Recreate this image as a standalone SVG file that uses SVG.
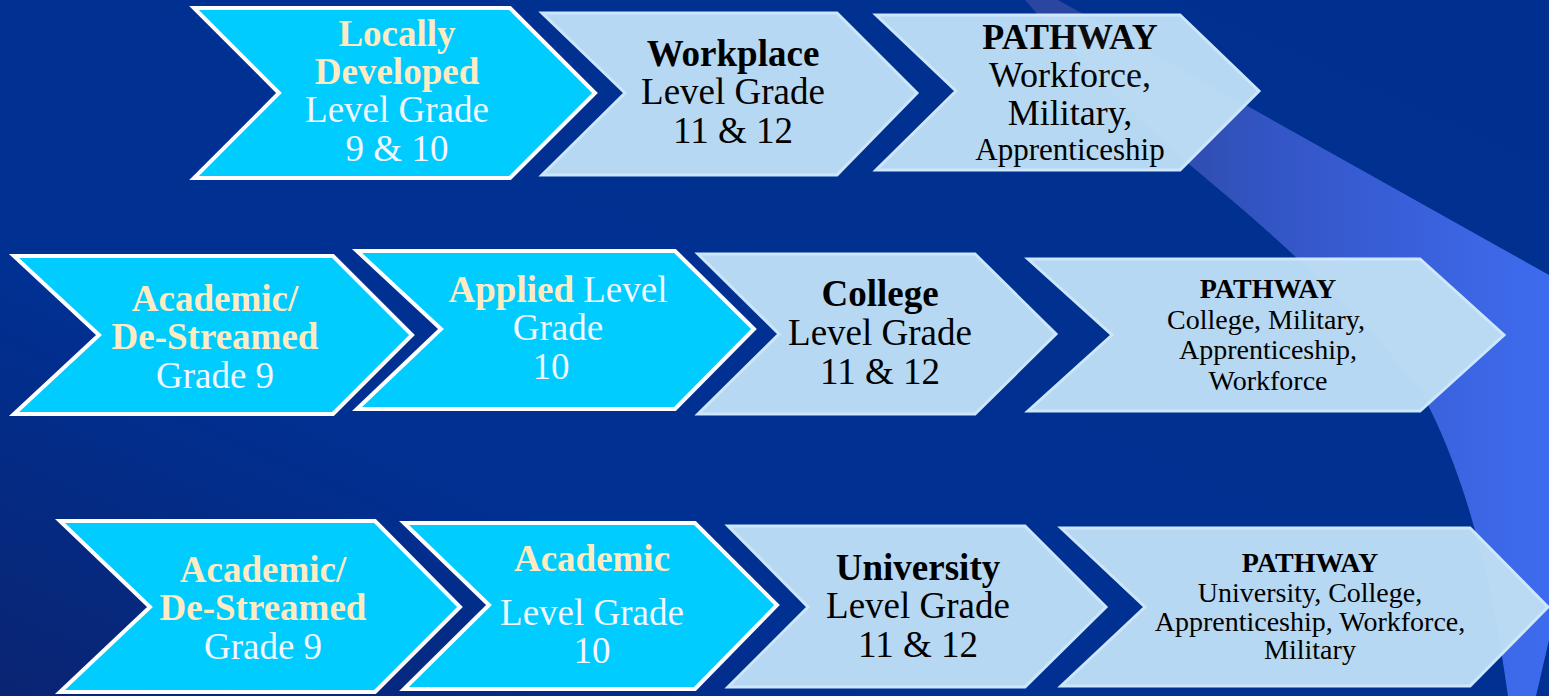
<svg xmlns="http://www.w3.org/2000/svg" width="1549" height="696" viewBox="0 0 1549 696">
<defs>
<linearGradient id="bg" x1="1" y1="0" x2="0" y2="1">
<stop offset="0" stop-color="#00308f"/>
<stop offset="0.7" stop-color="#003092"/>
<stop offset="1" stop-color="#0a2472"/>
</linearGradient>
<linearGradient id="beam" gradientUnits="userSpaceOnUse" x1="1100" y1="0" x2="1549" y2="0">
<stop offset="0" stop-color="#1f3d9c"/>
<stop offset="0.45" stop-color="#2b4fc8"/>
<stop offset="1" stop-color="#3464ee"/>
</linearGradient>
<path id="beamPath" d="M1025,0 L1058,0 L1549,275 L1549,640 L1536,696 L1508,696 C1495,600 1470,480 1420,390 C1340,290 1250,215 1190,165 C1120,105 1060,40 1025,0 Z"/>
</defs>
<style>
.cy{fill:#00ccff;stroke:#ffffff;stroke-width:4;stroke-linejoin:miter}
.lt{fill:#b6d8f2;stroke:#cce7fb;stroke-width:3;stroke-linejoin:miter}
.big{font-size:37px}
.mid{font-size:28px}
.b{font-weight:bold}
.cr{fill:#feebc2}
.wh{fill:#f2f7ff}
.bk{fill:#000000}
</style>
<rect width="1549" height="696" fill="url(#bg)"/>
<use href="#beamPath" fill="url(#beam)"/>

<g id="connectors"></g>

<g id="nodes" font-family="Liberation Serif" text-anchor="middle">
<g id="r1c1">
<path class="cy" d="M194,8 L510,8 L595,93 L510,178 L194,178 L279,93 Z"/>
<text class="big b cr" x="397" y="46">Locally</text>
<text class="big b cr" x="397" y="84">Developed</text>
<text class="big wh" x="397" y="122">Level Grade</text>
<text class="big wh" x="397" y="161">9 &amp; 10</text>
</g>
<g id="r1c2">
<path class="lt" d="M542,13 L837,13 L917,93 L837,175 L542,175 L625,93 Z"/>
<text class="big b bk" x="733" y="66">Workplace</text>
<text class="big bk" x="733" y="104">Level Grade</text>
<text class="big bk" x="733" y="143">11 &amp; 12</text>
</g>
<g id="r1c3">
<path class="lt" d="M876,15 L1180,15 L1259,91 L1180,170 L876,170 L956,91 Z"/>
<text class="b bk" x="1070" y="49" font-size="36">PATHWAY</text>
<text class="bk" x="1070" y="87" font-size="36">Workforce,</text>
<text class="bk" x="1070" y="125" font-size="36">Military,</text>
<text class="bk" x="1070" y="160" font-size="31">Apprenticeship</text>
</g>

<g id="r2c1">
<path class="cy" d="M14,256 L333,256 L412,335 L333,414 L14,414 L99,335 Z"/>
<text class="big b cr" x="215" y="311">Academic/</text>
<text class="big b cr" x="215" y="349">De-Streamed</text>
<text class="big wh" x="215" y="388">Grade 9</text>
</g>
<g id="r2c2">
<path class="cy" d="M357,251 L675,251 L754,329 L675,409 L357,409 L441,329 Z"/>
<text class="big" x="558" y="302"><tspan class="b cr">Applied</tspan><tspan class="wh"> Level</tspan></text>
<text class="big wh" x="558" y="340">Grade</text>
<text class="big wh" x="551" y="379">10</text>
</g>
<g id="r2c3">
<path class="lt" d="M698,254 L975,254 L1056,334 L975,414 L698,414 L779,334 Z"/>
<text class="big b bk" x="880" y="306">College</text>
<text class="big bk" x="880" y="345">Level Grade</text>
<text class="big bk" x="880" y="384">11 &amp; 12</text>
</g>
<g id="r2c4">
<path class="lt" d="M1028,259 L1420,259 L1504,335 L1420,411 L1028,411 L1112,335 Z"/>
<text class="mid b bk" x="1268" y="298">PATHWAY</text>
<text class="mid bk" x="1266" y="329">College, Military,</text>
<text class="mid bk" x="1268" y="359">Apprenticeship,</text>
<text class="mid bk" x="1268" y="390">Workforce</text>
</g>

<g id="r3c1">
<path class="cy" d="M60,521 L375,521 L460,607 L375,692 L60,692 L150,607 Z"/>
<text class="big b cr" x="263" y="582">Academic/</text>
<text class="big b cr" x="263" y="620">De-Streamed</text>
<text class="big wh" x="263" y="659">Grade 9</text>
</g>
<g id="r3c2">
<path class="cy" d="M404,523 L695,523 L777,605 L695,689 L404,689 L489,605 Z"/>
<text class="big b cr" x="592" y="571">Academic</text>
<text class="big wh" x="592" y="625">Level Grade</text>
<text class="big wh" x="592" y="663">10</text>
</g>
<g id="r3c3">
<path class="lt" d="M728,526 L1025,526 L1106,607 L1025,687 L728,687 L808,607 Z"/>
<text class="big b bk" x="918" y="580">University</text>
<text class="big bk" x="918" y="618">Level Grade</text>
<text class="big bk" x="918" y="657">11 &amp; 12</text>
</g>
<g id="r3c4">
<path class="lt" d="M1061,528 L1470,528 L1548,607 L1470,686 L1061,686 L1145,607 Z"/>
<text class="mid b bk" x="1310" y="572">PATHWAY</text>
<text class="mid bk" x="1310" y="602">University, College,</text>
<text class="mid bk" x="1310" y="631">Apprenticeship, Workforce,</text>
<text class="mid bk" x="1310" y="659">Military</text>
</g>
</g>

<use href="#beamPath" fill="#ffffff" opacity="0.05"/>
</svg>
